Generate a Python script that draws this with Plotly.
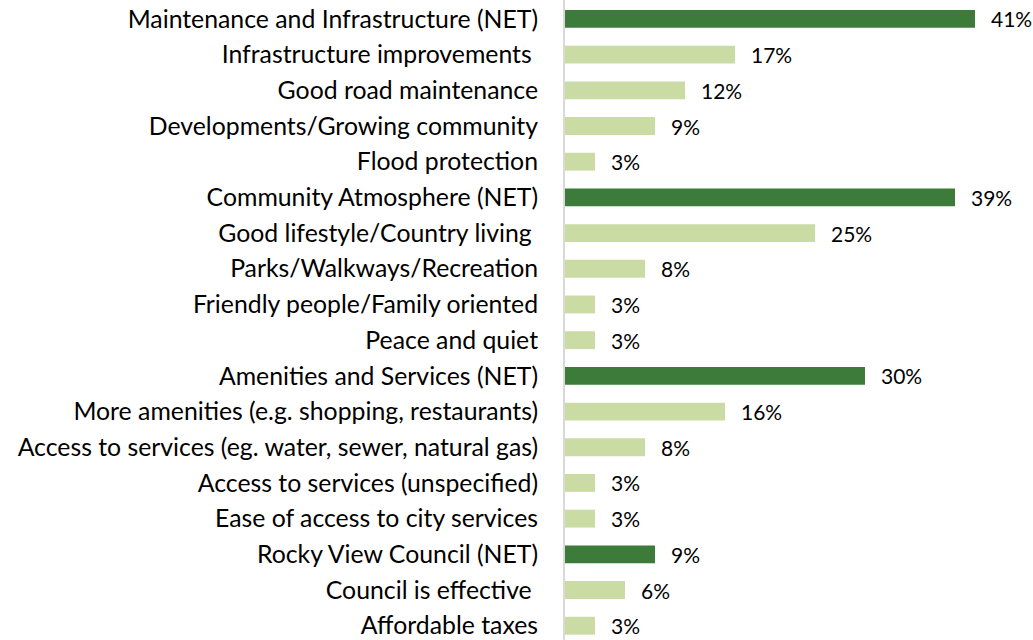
import plotly.graph_objects as go

categories = [
    "Maintenance and Infrastructure (NET)",
    "Infrastructure improvements ",
    "Good road maintenance",
    "Developments/Growing community",
    "Flood protection",
    "Community Atmosphere (NET)",
    "Good lifestyle/Country living ",
    "Parks/Walkways/Recreation",
    "Friendly people/Family oriented",
    "Peace and quiet",
    "Amenities and Services (NET)",
    "More amenities (e.g. shopping, restaurants)",
    "Access to services (eg. water, sewer, natural gas)",
    "Access to services (unspecified)",
    "Ease of access to city services",
    "Rocky View Council (NET)",
    "Council is effective ",
    "Affordable taxes",
]
values = [41, 17, 12, 9, 3, 39, 25, 8, 3, 3, 30, 16, 8, 3, 3, 9, 6, 3]
is_net = [c.endswith("(NET)") for c in categories]

DARK = "#3D7B3B"
LIGHT = "#CADBA4"
FONT = "Lato"

pos = list(range(len(categories)))
colors = [DARK if n else LIGHT for n in is_net]

fig = go.Figure(go.Bar(
    x=values, y=pos, orientation="h",
    marker=dict(color=colors, line=dict(width=0)),
    width=0.5, hoverinfo="skip",
))

for p, v in zip(pos, values):
    fig.add_annotation(x=v, y=p, text=f"{v}%", showarrow=False,
                       xanchor="left", xshift=14,
                       font=dict(family=FONT, size=21, color="#000000"))

fig.update_layout(
    width=1033, height=640,
    margin=dict(l=565, r=0, t=0, b=0),
    plot_bgcolor="white", paper_bgcolor="white",
    showlegend=False,
    font=dict(family=FONT, size=21, color="#000000"),
)
fig.update_xaxes(range=[0, 46.8], visible=False, showgrid=False)
fig.update_yaxes(
    range=[17.40, -0.53], tickmode="array", tickvals=pos, ticktext=categories,
    showgrid=False, zeroline=False, ticks="", ticklabelstandoff=20,
    showline=True, linecolor="#D9D9D9", linewidth=2,
    tickfont=dict(family=FONT, size=24.8, color="#000000"),
)

# drop the default 8px body margin so the chart sits flush in the window
fig.write_html("out.html", config={"displayModeBar": False},
               post_script="document.body.style.margin='0';")
